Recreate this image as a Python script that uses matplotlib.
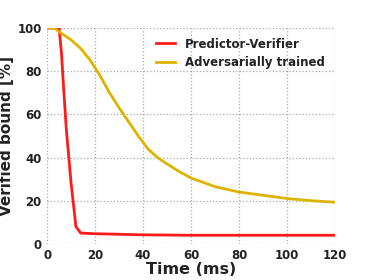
import matplotlib.pyplot as plt

# data
t_pv = [0, 5, 6, 7, 8, 10, 12, 14, 20, 40, 60, 80, 100, 120]
pv = [100, 100, 88, 70, 53, 28, 8, 5, 4.7, 4.2, 4.0, 4.0, 4.0, 4.0]

t_adv = [0, 3, 6, 10, 14, 18, 22, 26, 30, 34, 38, 42, 46, 50, 55, 60, 70, 80, 90, 100, 110, 120]
adv = [100, 100, 97.5, 94.5, 90.5, 85, 78, 70, 63, 56.5, 50, 44, 40, 37, 33.5, 30.5, 26.5, 24, 22.5, 21, 20, 19.3]

plt.rcParams['font.family'] = 'DejaVu Sans'
plt.rcParams['font.weight'] = 'bold'
txt = '#222222'

fig = plt.figure(figsize=(3.74, 2.8), dpi=100)
ax = fig.add_axes([0.126, 0.129, 0.77, 0.771])

ax.plot(t_pv, pv, color='#ff1a1a', lw=2, label='Predictor-Verifier')
ax.plot(t_adv, adv, color='#dcb400', lw=2, label='Adversarially trained')

ax.set_xlim(0, 120)
ax.set_ylim(0, 100)
ax.set_xticks(range(0, 121, 20))
ax.set_yticks(range(0, 101, 20))
for s in ax.spines.values():
    s.set_visible(False)
ax.grid(True, linestyle=':', color='#aaaaaa', lw=0.9)
ax.tick_params(length=0, labelsize=8.5, colors=txt, pad=4)
for lab in ax.get_xticklabels() + ax.get_yticklabels():
    lab.set_fontweight('bold')

ax.set_xlabel('Time (ms)', fontsize=11.5, fontweight='bold', color=txt, labelpad=0)
ax.set_ylabel('Verified bound [%]', fontsize=11, fontweight='bold', color=txt, labelpad=2)

leg = ax.legend(loc='upper right', frameon=False, fontsize=8.5, handlelength=1.6,
                bbox_to_anchor=(1.0, 1.005), labelspacing=0.45)
for t in leg.get_texts():
    t.set_fontweight('bold')
    t.set_color(txt)

fig.savefig('out.png', dpi=100)
